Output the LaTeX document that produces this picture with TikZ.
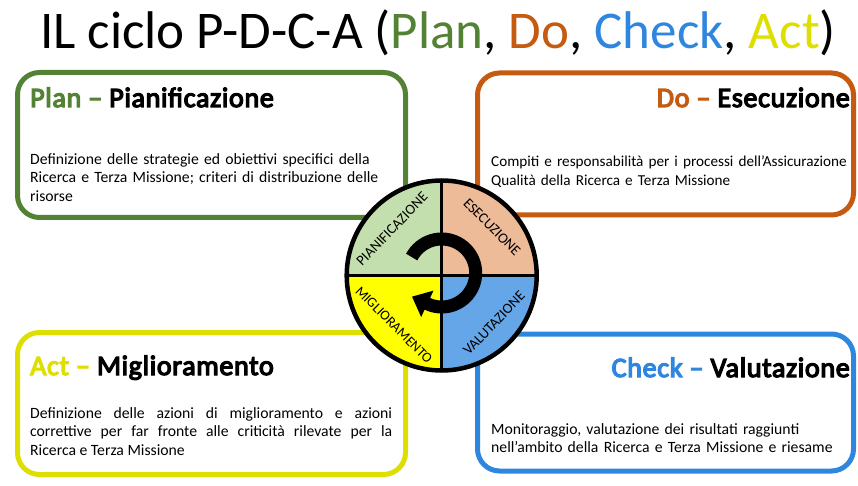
\documentclass[tikz,border=0pt]{standalone}
\usepackage{fontspec}
\setmainfont{Carlito}
\newfontfamily\headfont{Carlito}[FakeBold=4.5, LetterSpace=2.5]
\usetikzlibrary{arrows.meta}
\definecolor{plangreen}{HTML}{548235}
\definecolor{doorange}{HTML}{C55A11}
\definecolor{checkblue}{HTML}{2E86DE}
\definecolor{actyellow}{HTML}{DEDE00}
\definecolor{qgreen}{HTML}{C3DFAE}
\definecolor{qpeach}{HTML}{EEBB99}
\definecolor{qblue}{HTML}{64A6E8}
\definecolor{qyellow}{HTML}{FFFF00}
\tikzset{
  card/.style={draw=#1, line width=5pt, rounded corners=22pt, fill=white, inner sep=0pt, outer sep=0pt},
  heading/.style={font=\headfont\fontsize{28}{30}\selectfont, inner sep=0pt},
  body/.style={font=\fontsize{15.7}{18.6}\selectfont, inner sep=0pt, anchor=north west},
  qlabel/.style={font=\fontsize{14.5}{16}\selectfont, inner sep=0pt},
}
\begin{document}
\begin{tikzpicture}[x=1pt,y=-1pt]
\useasboundingbox (0,0) rectangle (858,486);
% title
\node[anchor=base, inner sep=0pt, font=\fontsize{53}{58}\selectfont] (title) at (438,49)
  {IL ciclo P-D-C-A ({\color{plangreen}Plan}, {\color{doorange}Do}, {\color{checkblue}Check}, {\color{actyellow}Act})};
% cards
\node[card=plangreen, minimum width=388pt, minimum height=145pt] (plan) at (211.5,145) {};
\node[card=doorange, minimum width=376pt, minimum height=142pt] (do) at (665.5,144) {};
\node[card=actyellow, minimum width=388pt, minimum height=142pt] (act) at (211.5,403.5) {};
\node[card=checkblue, minimum width=376pt, minimum height=137pt] (check) at (665.5,402.5) {};
% headings
\node[heading, anchor=base west] (planh) at (30,107) {{\color{plangreen}Plan –} Pianificazione};
\node[heading, anchor=base east] (doh) at (850,107) {{\color{doorange}Do –} Esecuzione};
\node[heading, anchor=base west] (acth) at (30,375) {{\color{actyellow}Act –} Miglioramento};
\node[heading, anchor=base east] (checkh) at (850,377) {{\color{checkblue}Check –} Valutazione};
% bodies
\node[body, text width=365pt, align=left] (planb) at (30,153)
  {Definizione delle strategie ed obiettivi specifici della\\ Ricerca e Terza Missione; criteri di distribuzione delle\\ risorse};
\node[body, text width=365pt, align=left, font=\fontsize{15.2}{18.6}\selectfont] (dob) at (491,156)
  {Compiti e responsabilità per i processi dell’Assicurazione\\ Qualità della Ricerca e Terza Missione};
\node[body, text width=362pt, align=justify] (actb) at (30,407)
  {Definizione delle azioni di miglioramento e azioni\linebreak correttive per far fronte alle criticità rilevate per la\linebreak Ricerca e Terza Missione};
\node[body, text width=365pt, align=left] (checkb) at (491,423)
  {Monitoraggio, valutazione dei risultati raggiunti\\ nell’ambito della Ricerca e Terza Missione e riesame};
% wheel
\coordinate (c) at (441.7,275.5);
\fill[qgreen] (c) -- ++(180:95) arc[start angle=180, end angle=270, radius=95] -- cycle;
\fill[qpeach] (c) -- ++(270:95) arc[start angle=270, end angle=360, radius=95] -- cycle;
\fill[qblue] (c) -- ++(0:95) arc[start angle=0, end angle=90, radius=95] -- cycle;
\fill[qyellow] (c) -- ++(90:95) arc[start angle=90, end angle=180, radius=95] -- cycle;
\draw[line width=3pt] ([xshift=-95pt]c) -- ([xshift=95pt]c);
\draw[line width=3pt] ([yshift=-95pt]c) -- ([yshift=95pt]c);
\draw[line width=4.5pt] (c) circle[radius=95];
% labels
\node[qlabel, rotate=46] (lp) at (392,229) {PIANIFICAZIONE};
\node[qlabel, rotate=-45] (ld) at (492,227) {ESECUZIONE};
\node[qlabel, rotate=46] (lc) at (494,323) {VALUTAZIONE};
\node[qlabel, rotate=-45, font=\fontsize{14}{16}\selectfont] (la) at (394,325) {MIGLIORAMENTO};
% cycle arrow
\coordinate (ac) at (441.7,273);
\coordinate (astart) at ([shift={(-152:34)}]ac);
\draw[line width=13pt, -{Triangle[length=17pt, width=28pt]}] (astart) arc[start angle=-152, end angle=115, radius=34] -- ++(-15.4,-7.2);
\end{tikzpicture}
\end{document}
